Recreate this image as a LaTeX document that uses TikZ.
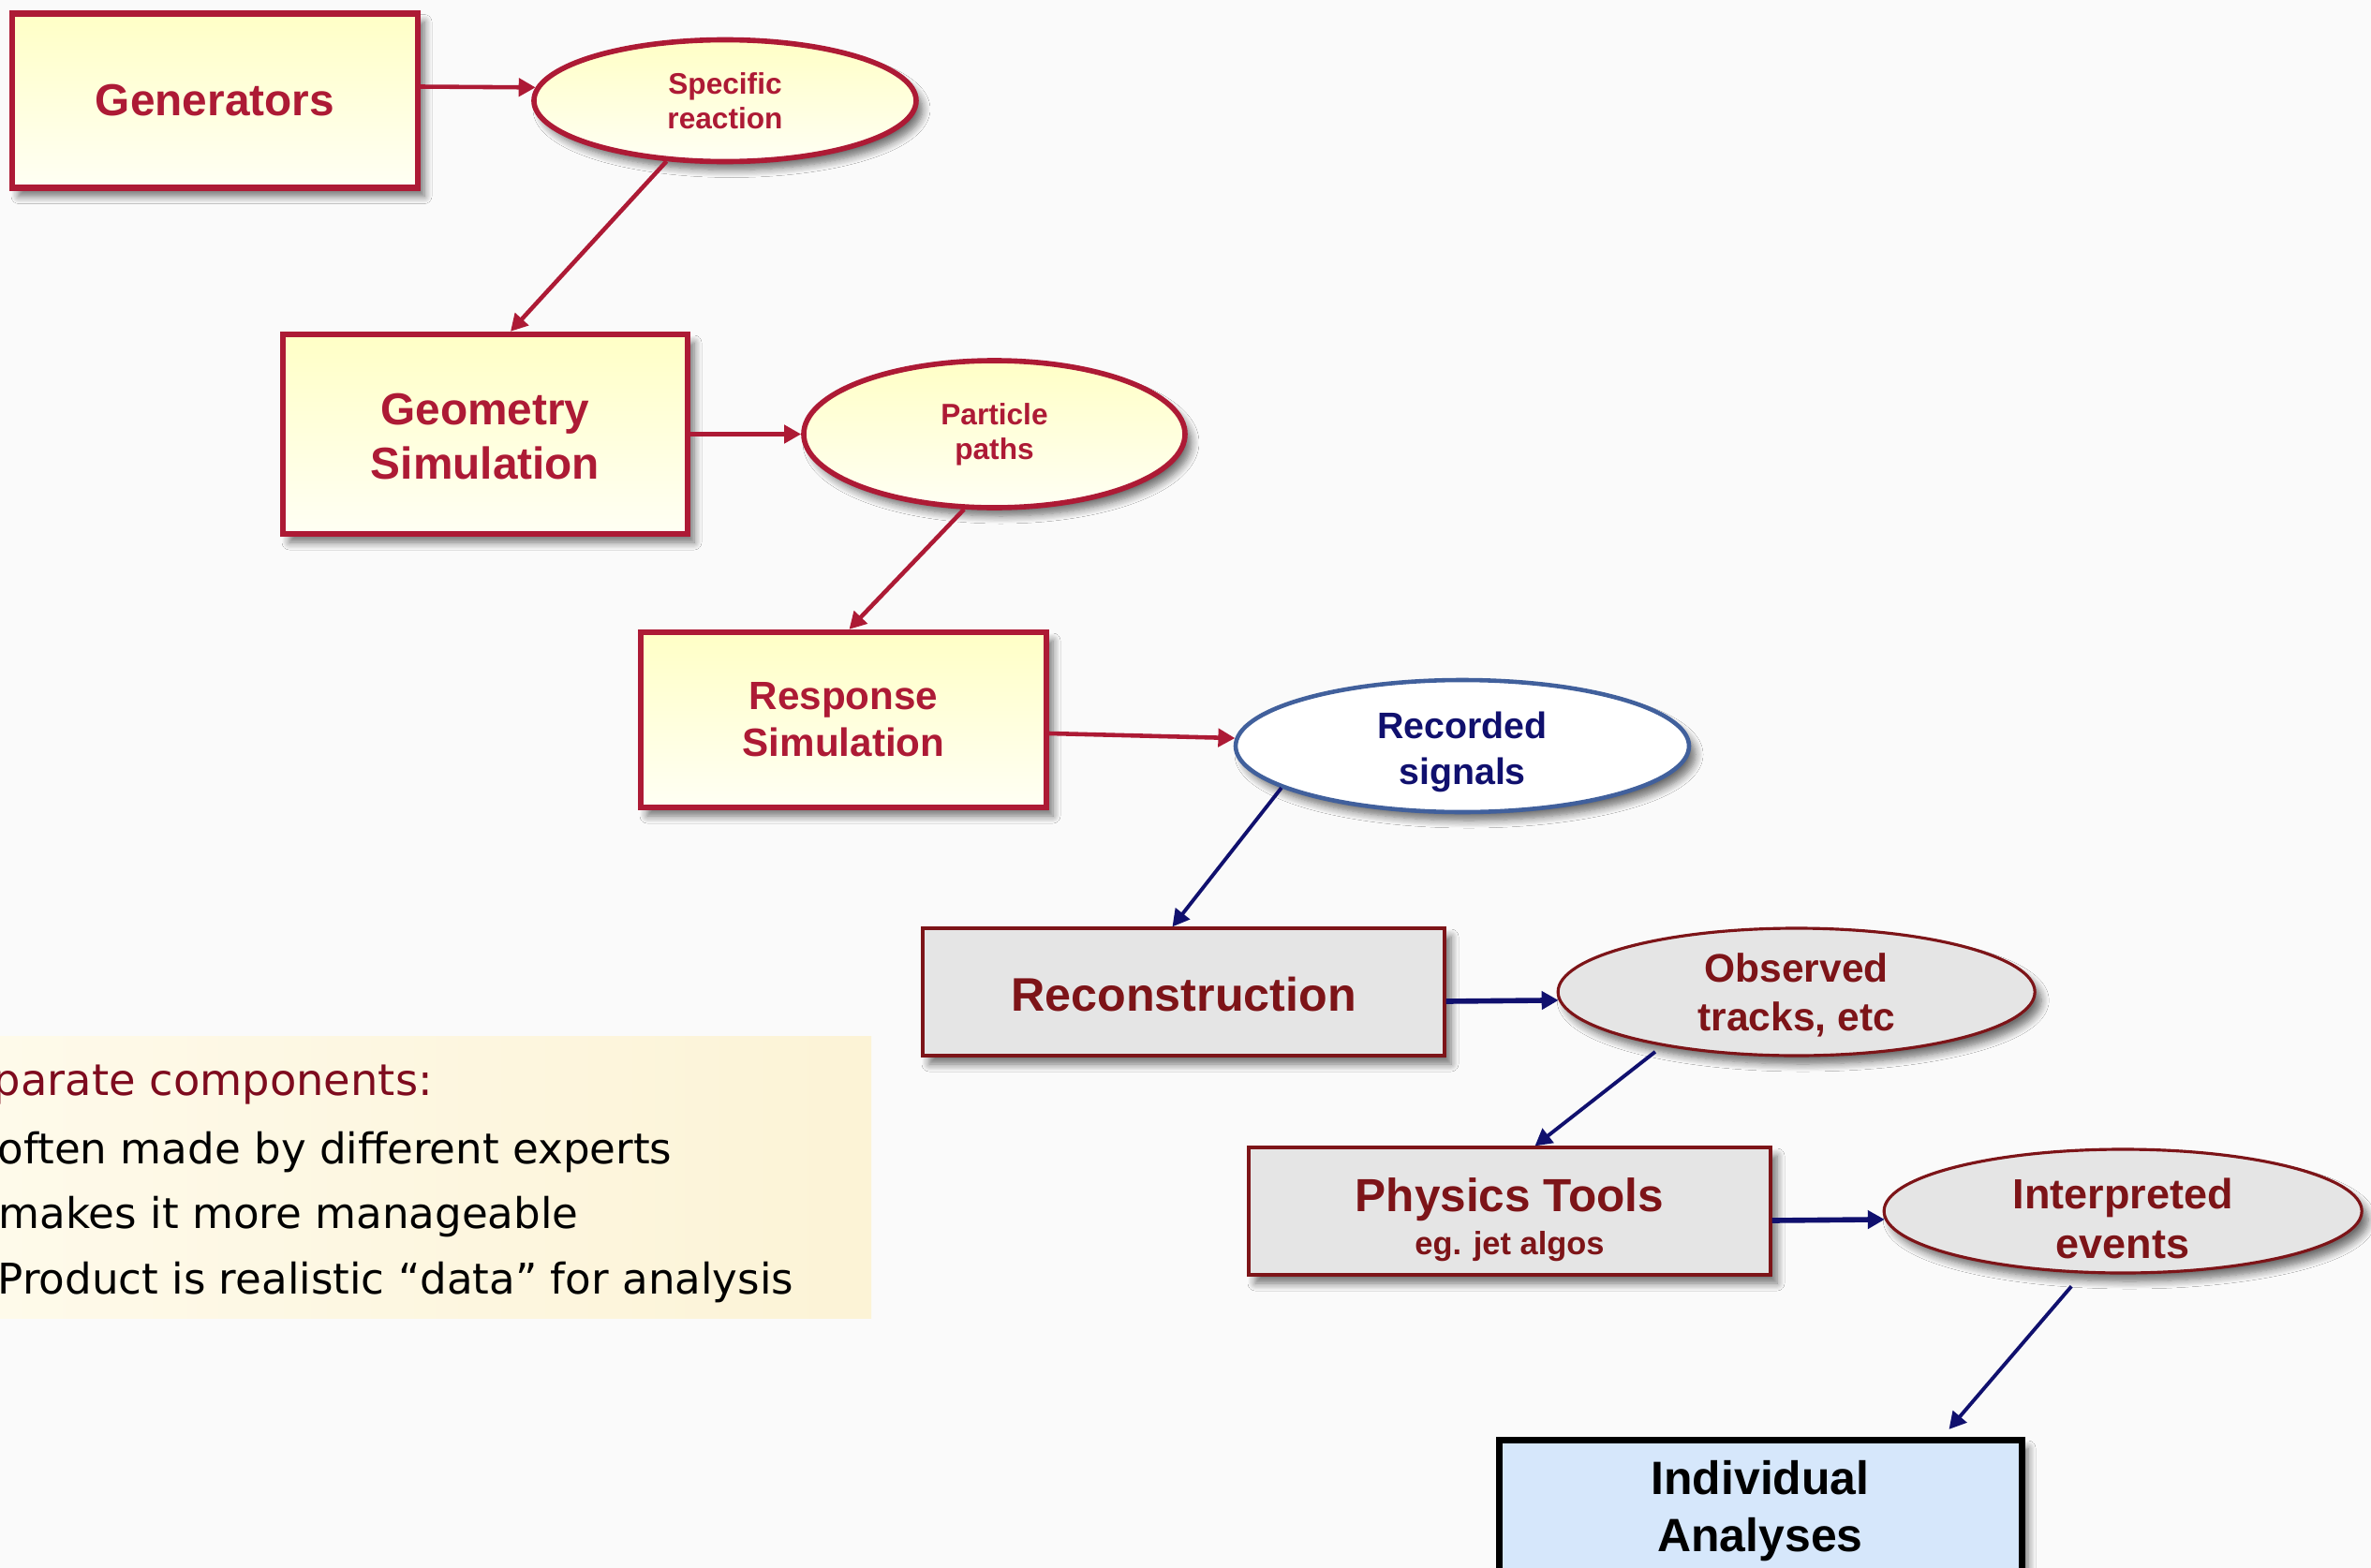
\documentclass[tikz,border=0pt]{standalone}
\usepackage{fontspec}
\setmainfont{Liberation Sans}
\newfontfamily\panelfont{DejaVu Sans}
\usetikzlibrary{arrows.meta, positioning, shapes.geometric, shadows.blur}
\definecolor{simred}{HTML}{AD1A35}
\definecolor{simtop}{HTML}{FFFFC6}
\definecolor{simbot}{HTML}{FFFFF4}
\definecolor{recored}{HTML}{7D1418}
\definecolor{recogray}{HTML}{E5E5E5}
\definecolor{navyarrow}{HTML}{10106E}
\definecolor{recblue}{HTML}{41609C}
\definecolor{anablue}{HTML}{D6E7FB}
\definecolor{slidebg}{HTML}{FAFAFA}
\definecolor{paneltop}{HTML}{FEFAEA}
\definecolor{panelend}{HTML}{FCF3D6}
\definecolor{panelred}{HTML}{7E0B1E}
\newcommand{\sz}[2]{\fontsize{#1pt}{#2pt}\selectfont}
% taller first line pushes the text block down a little
\newcommand{\topstrut}[1]{\rule{0pt}{#1}}

\begin{document}
\begin{tikzpicture}[
  shade/.style={blur shadow={shadow xshift=0.07cm, shadow yshift=-0.09cm, shadow blur radius=0.08cm, shadow blur steps=8, shadow opacity=55}},
  simbox/.style={draw=simred, line width=1.8pt, top color=simtop, bottom color=simbot, text=simred, inner sep=0pt, align=center, shade},
  simoval/.style={simbox, ellipse, line width=1.6pt},
  recobox/.style={draw=recored, line width=0.9pt, fill=recogray, text=recored, inner sep=0pt, align=center, shade},
  recooval/.style={recobox, ellipse},
  redarr/.style={-{Triangle[length=1.8mm, width=1.9mm]}, line width=1.3pt, color=simred},
  bluearr/.style={-{Triangle[length=1.8mm, width=1.9mm]}, line width=1.1pt, color=navyarrow},
  paneltext/.style={anchor=base west, inner sep=0pt, font=\panelfont\sz{12.85}{15}},
  node distance=1.18cm
]
\useasboundingbox (0,0) rectangle (25.31,-16.74);
\clip (0,0) rectangle (25.31,-16.74);
\fill[slidebg] (0,0) rectangle (25.31,-16.74);

% simulation chain
\node[simbox, minimum width=4.33cm, minimum height=1.86cm, font=\bfseries\sz{13.6}{16.5}] (gen) at (2.295,-1.075) {Generators};
\node[simoval, right=of gen, minimum width=4.08cm, minimum height=1.30cm, font=\bfseries\sz{9}{10.6}] (spec) {Specific\\reaction};
\node[simbox, minimum width=4.32cm, minimum height=2.13cm, font=\bfseries\sz{13.6}{16.5}] (geo) at (5.18,-4.635) {\topstrut{11pt}Geometry\\Simulation};
\node[simoval, right=of geo, minimum width=4.07cm, minimum height=1.57cm, font=\bfseries\sz{9}{10.6}] (part) {Particle\\paths};
\node[simbox, minimum width=4.33cm, minimum height=1.87cm, font=\bfseries\sz{12}{14.2}] (resp) at (9.005,-7.685) {Response\\Simulation};
\node[draw=recblue, line width=1.3pt, fill=white, ellipse, inner sep=0pt, text=navyarrow, align=center, shade,
      minimum width=4.84cm, minimum height=1.41cm, font=\bfseries\sz{11.2}{13.7}] (rec) at (15.61,-7.965) {\topstrut{11.8pt}Recorded\\signals};

% reconstruction chain
\node[recobox, minimum width=5.57cm, minimum height=1.36cm, font=\bfseries\sz{14.3}{17}] (recon) at (12.635,-10.59) {\topstrut{12pt}Reconstruction};
\node[recooval, right=of recon, minimum width=5.09cm, minimum height=1.36cm, text depth=-1.1pt, font=\bfseries\sz{12.1}{14.7}] (obs) {Observed\\tracks, etc};
\node[recobox, minimum width=5.57cm, minimum height=1.36cm, font=\bfseries\sz{14.1}{15}] (phys) at (16.115,-12.93)
  {\topstrut{15.6pt}Physics Tools\\[-2pt]{\sz{9.8}{11}eg. jet algos}};
\node[recooval, right=of phys, minimum width=5.10cm, minimum height=1.32cm,
      label={[text=recored, align=center, yshift=-0.08cm, font=\bfseries\sz{12.8}{15}]center:Interpreted\\events}] (interp) {};
\node[draw=black, line width=2pt, fill=anablue, inner sep=0pt, align=center, shade,
      minimum width=5.58cm, minimum height=1.53cm, font=\bfseries\sz{14.2}{17.4}] (ind) at (18.79,-16.135) {Individual\\Analyses};

\draw[redarr] ([yshift=0.15cm]gen.east) -- (spec.176);
\draw[redarr] (spec.226) -- ([xshift=0.27cm]geo.north);
\draw[redarr] (geo.east) -- (part.west);
\draw[redarr] (part.248) -- ([xshift=0.06cm]resp.north);
\draw[redarr] ([yshift=-0.145cm]resp.east) -- (rec.178);
\draw[bluearr] (rec.193) -- ([xshift=-0.12cm]recon.north);
\draw[bluearr, line width=1.6pt] ([yshift=-0.1cm]recon.east) -- (obs.182);
\draw[bluearr, shorten <=0.1cm] (obs.202) -- ([xshift=0.27cm]phys.north);
\draw[bluearr, line width=1.6pt] ([yshift=-0.1cm]phys.east) -- (interp.182);
\draw[bluearr, shorten <=0.18cm, shorten >=0.1cm] (interp.237) -- ([xshift=1.95cm]ind.north);

% notes panel
\fill[left color=paneltop, right color=panelend] (0,-11.06) rectangle (9.30,-14.07);
\node[paneltext, text=panelred, font=\panelfont\sz{13.2}{15}] (hdr) at (-0.08,-11.69) {parate components:};
\node[paneltext] (pt1) at (-0.03,-12.42) {often made by different experts};
\node[paneltext] (pt2) at (-0.02,-13.11) {makes it more manageable};
\node[paneltext] (pt3) at (-0.03,-13.81) {Product is realistic “data” for analysis};
\end{tikzpicture}
\end{document}
